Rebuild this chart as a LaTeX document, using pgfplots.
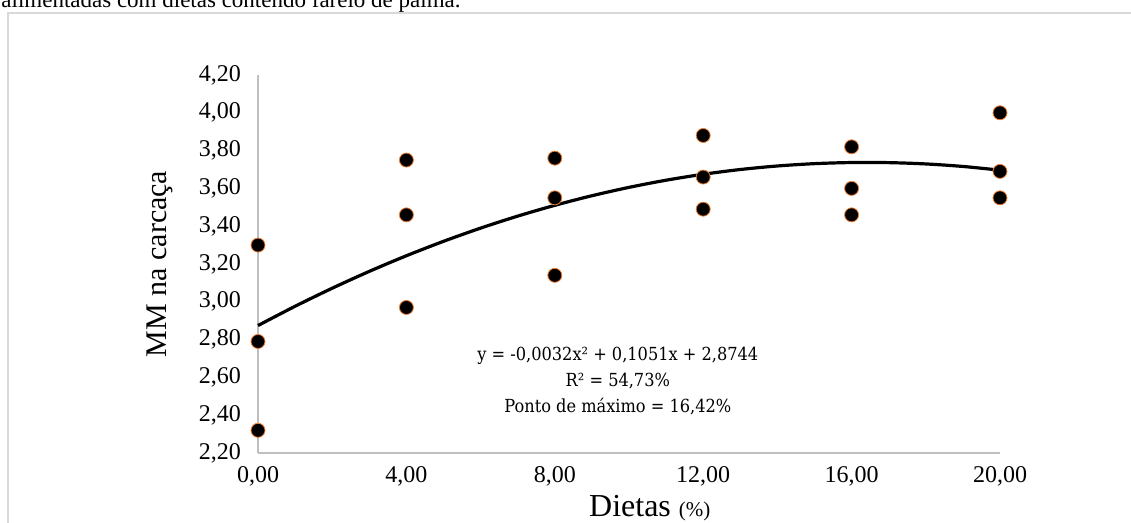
\documentclass[border=0pt]{standalone}
\usepackage{fontspec}
\setmainfont{Liberation Serif}
\newfontfamily\eqfont{DejaVu Serif Condensed}
\usepackage{pgfplots}
\pgfplotsset{compat=1.18}
\definecolor{axgray}{HTML}{BFBFBF}
\definecolor{bordergray}{HTML}{D9D9D9}
\definecolor{mkorange}{HTML}{ED7D31}
\begin{document}
\begin{tikzpicture}
\useasboundingbox (0pt,0pt) rectangle (565.5pt,261.5pt);
\clip (0pt,0pt) rectangle (565.5pt,261.5pt);
\node[anchor=base west, inner sep=0pt, font=\fontsize{11.5}{13}\selectfont] at (0.5pt,257.5pt) {alimentadas com dietas contendo farelo de palma.};
\draw[bordergray, line width=1pt] (3.75pt,-2pt) -- (3.75pt,255pt) -- (570pt,255pt);
\begin{axis}[
  at={(129pt,35pt)}, anchor=south west,
  width=371pt, height=189pt, scale only axis,
  xmin=0, xmax=20, ymin=2.2, ymax=4.2,
  axis x line*=bottom, axis y line*=left,
  axis line style={axgray, line width=0.75pt, -},
  xtick={0,4,8,12,16,20},
  ytick={2.2,2.4,2.6,2.8,3.0,3.2,3.4,3.6,3.8,4.0,4.2},
  major tick length=0pt,
  tick label style={font=\fontsize{12}{13}\selectfont, black},
  /pgf/number format/assume math mode=true,
  /pgf/number format/.cd, fixed, fixed zerofill, precision=2, use comma, 1000 sep={},
  /pgfplots/.cd,
  yticklabel style={xshift=-5pt},
  xticklabel style={yshift=-3pt},
  ylabel={MM na carcaça},
  ylabel style={at={(axis description cs:-0.132,0.5)}, anchor=center, font=\fontsize{15}{16}\selectfont},
  xlabel={Dietas {\fontsize{10.5}{11}\selectfont (\%)}},
  xlabel style={at={(axis description cs:0.528,-0.1455)}, anchor=center, font=\fontsize{16}{17}\selectfont},
  clip=false,
]
\addplot[black, line width=1.6pt, smooth] coordinates {
(0,2.8744) (1,2.9763) (2,3.0718) (3,3.1609) (4,3.2436) (5,3.3199) (6,3.3898)
(7,3.4533) (8,3.5104) (9,3.5611) (10,3.6054) (11,3.6433) (12,3.6748) (13,3.6999)
(14,3.7186) (15,3.7309) (16,3.7368) (17,3.7363) (18,3.7294) (19,3.7161) (20,3.6964)
};
\addplot[only marks, mark=*, mark size=3.5pt, mark options={fill=black, draw=mkorange, line width=0.4pt}] coordinates {
(0,3.30) (0,2.79) (0,2.32)
(4,3.75) (4,3.46) (4,2.97)
(8,3.76) (8,3.55) (8,3.14)
(12,3.88) (12,3.66) (12,3.49)
(16,3.82) (16,3.60) (16,3.46)
(20,4.00) (20,3.69) (20,3.55)
};
\node[align=center, font=\eqfont\fontsize{9}{13}\selectfont] at (axis cs:9.7,2.581)
  {y = -0,0032x² + 0,1051x + 2,8744\\R² = 54,73\%\\Ponto de máximo = 16,42\%};
\end{axis}
\end{tikzpicture}
\end{document}
